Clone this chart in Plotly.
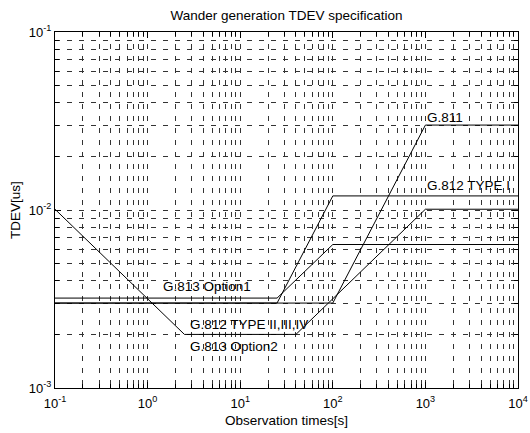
import numpy as np
import plotly.graph_objects as go

# TDEV masks (observation time in s, TDEV in us)
tau_g811 = [0.1, 100, 1000, 10000]
tdev_g811 = [0.003, 0.003, 0.03, 0.03]

tau_g812_t1 = [0.1, 25, 100, 10000]
tdev_g812_t1 = [0.003, 0.003, 0.012, 0.012]

tau_g813_o1 = [0.1, 25, 100, 10000]
tdev_g813_o1 = [0.0032, 0.0032, 0.0064, 0.0064]

tau_g812_t2 = [0.1, 2.5, 40, 1000, 10000]
tdev_g812_t2 = [0.0101, 0.002, 0.002, 0.0101, 0.0101]

# curve labels: text, tau, tdev
label_text = ["G.811", "G.812 TYPE I", "G.813 Option1", "G.812 TYPE II,III,IV", "G.813 Option2"]
label_tau = [1000, 1000, 1.4, 2.75, 2.75]
label_tdev = [0.033, 0.0137, 0.0037, 0.00226, 0.0017]

x_decades = [0.1, 1, 10, 100, 1000, 10000]
x_decade_text = ["10<sup>-1</sup>", "10<sup>0</sup>", "10<sup>1</sup>", "10<sup>2</sup>",
                 "10<sup>3</sup>", "10<sup>4</sup>"]
y_decades = [0.001, 0.01, 0.1]
y_decade_text = ["10<sup>-3</sup>", "10<sup>-2</sup>", "10<sup>-1</sup>"]

x_minor = [m * d for d in [0.1, 1, 10, 100, 1000] for m in range(2, 10)]
y_minor = [m * d for d in [0.001, 0.01] for m in range(2, 10)]

FONT = "Liberation Sans, Arial, Helvetica, sans-serif"
line_style = dict(color="black", width=1)

fig = go.Figure()
for xs, ys in [(tau_g811, tdev_g811), (tau_g812_t1, tdev_g812_t1),
               (tau_g813_o1, tdev_g813_o1), (tau_g812_t2, tdev_g812_t2)]:
    fig.add_trace(go.Scatter(x=xs, y=ys, mode="lines", line=line_style,
                             showlegend=False, hoverinfo="skip"))

grid_kw = dict(showgrid=True, gridcolor="#333", gridwidth=0.8, griddash="5px,7px")
axis_common = dict(
    type="log", showline=True, linecolor="black", linewidth=1, mirror="ticks",
    ticks="inside", ticklen=6, tickcolor="black", tickwidth=1,
    zeroline=False, automargin=False,
    tickfont=dict(family=FONT, size=13, color="black"),
    **grid_kw,
)

fig.update_xaxes(
    range=[-1, 4], tickmode="array", tickvals=x_decades, ticktext=x_decade_text,
    ticklabelstandoff=3,
    minor=dict(tickmode="array", tickvals=x_minor, ticks="inside", ticklen=4,
               tickcolor="black", **grid_kw),
    **axis_common,
)
fig.update_yaxes(
    range=[-3, -1], tickmode="array", tickvals=y_decades, ticktext=y_decade_text,
    minor=dict(tickmode="array", tickvals=y_minor, ticks="inside", ticklen=4,
               tickcolor="black", **grid_kw),
    **axis_common,
)

annotations = []
for t, xv, yv in zip(label_text, label_tau, label_tdev):
    annotations.append(dict(
        x=np.log10(xv), y=np.log10(yv), xref="x", yref="y", text=t,
        showarrow=False, xanchor="left", yanchor="middle",
        font=dict(family=FONT, size=13.5, color="black"),
    ))

annotations.append(dict(
    text="Observation times[s]", xref="paper", yref="paper", x=0.5, y=0,
    yanchor="middle", yshift=-32, showarrow=False,
    font=dict(family=FONT, size=13.5, color="black"),
))
annotations.append(dict(
    text="TDEV[us]", xref="paper", yref="paper", x=0, y=0.5, xanchor="center",
    xshift=-40, textangle=-90, showarrow=False,
    font=dict(family=FONT, size=13.5, color="black"),
))

fig.update_layout(
    template="none",
    width=530, height=433,
    margin=dict(l=55, r=12, t=32, b=45, autoexpand=False),
    paper_bgcolor="white", plot_bgcolor="white",
    title=dict(text="Wander generation TDEV specification", x=0.5, xref="paper",
               y=1 - 15 / 433, yref="container", yanchor="middle", xanchor="center",
               font=dict(family=FONT, size=13.5, color="black")),
    annotations=annotations,
)

fig.write_html("out.html")
